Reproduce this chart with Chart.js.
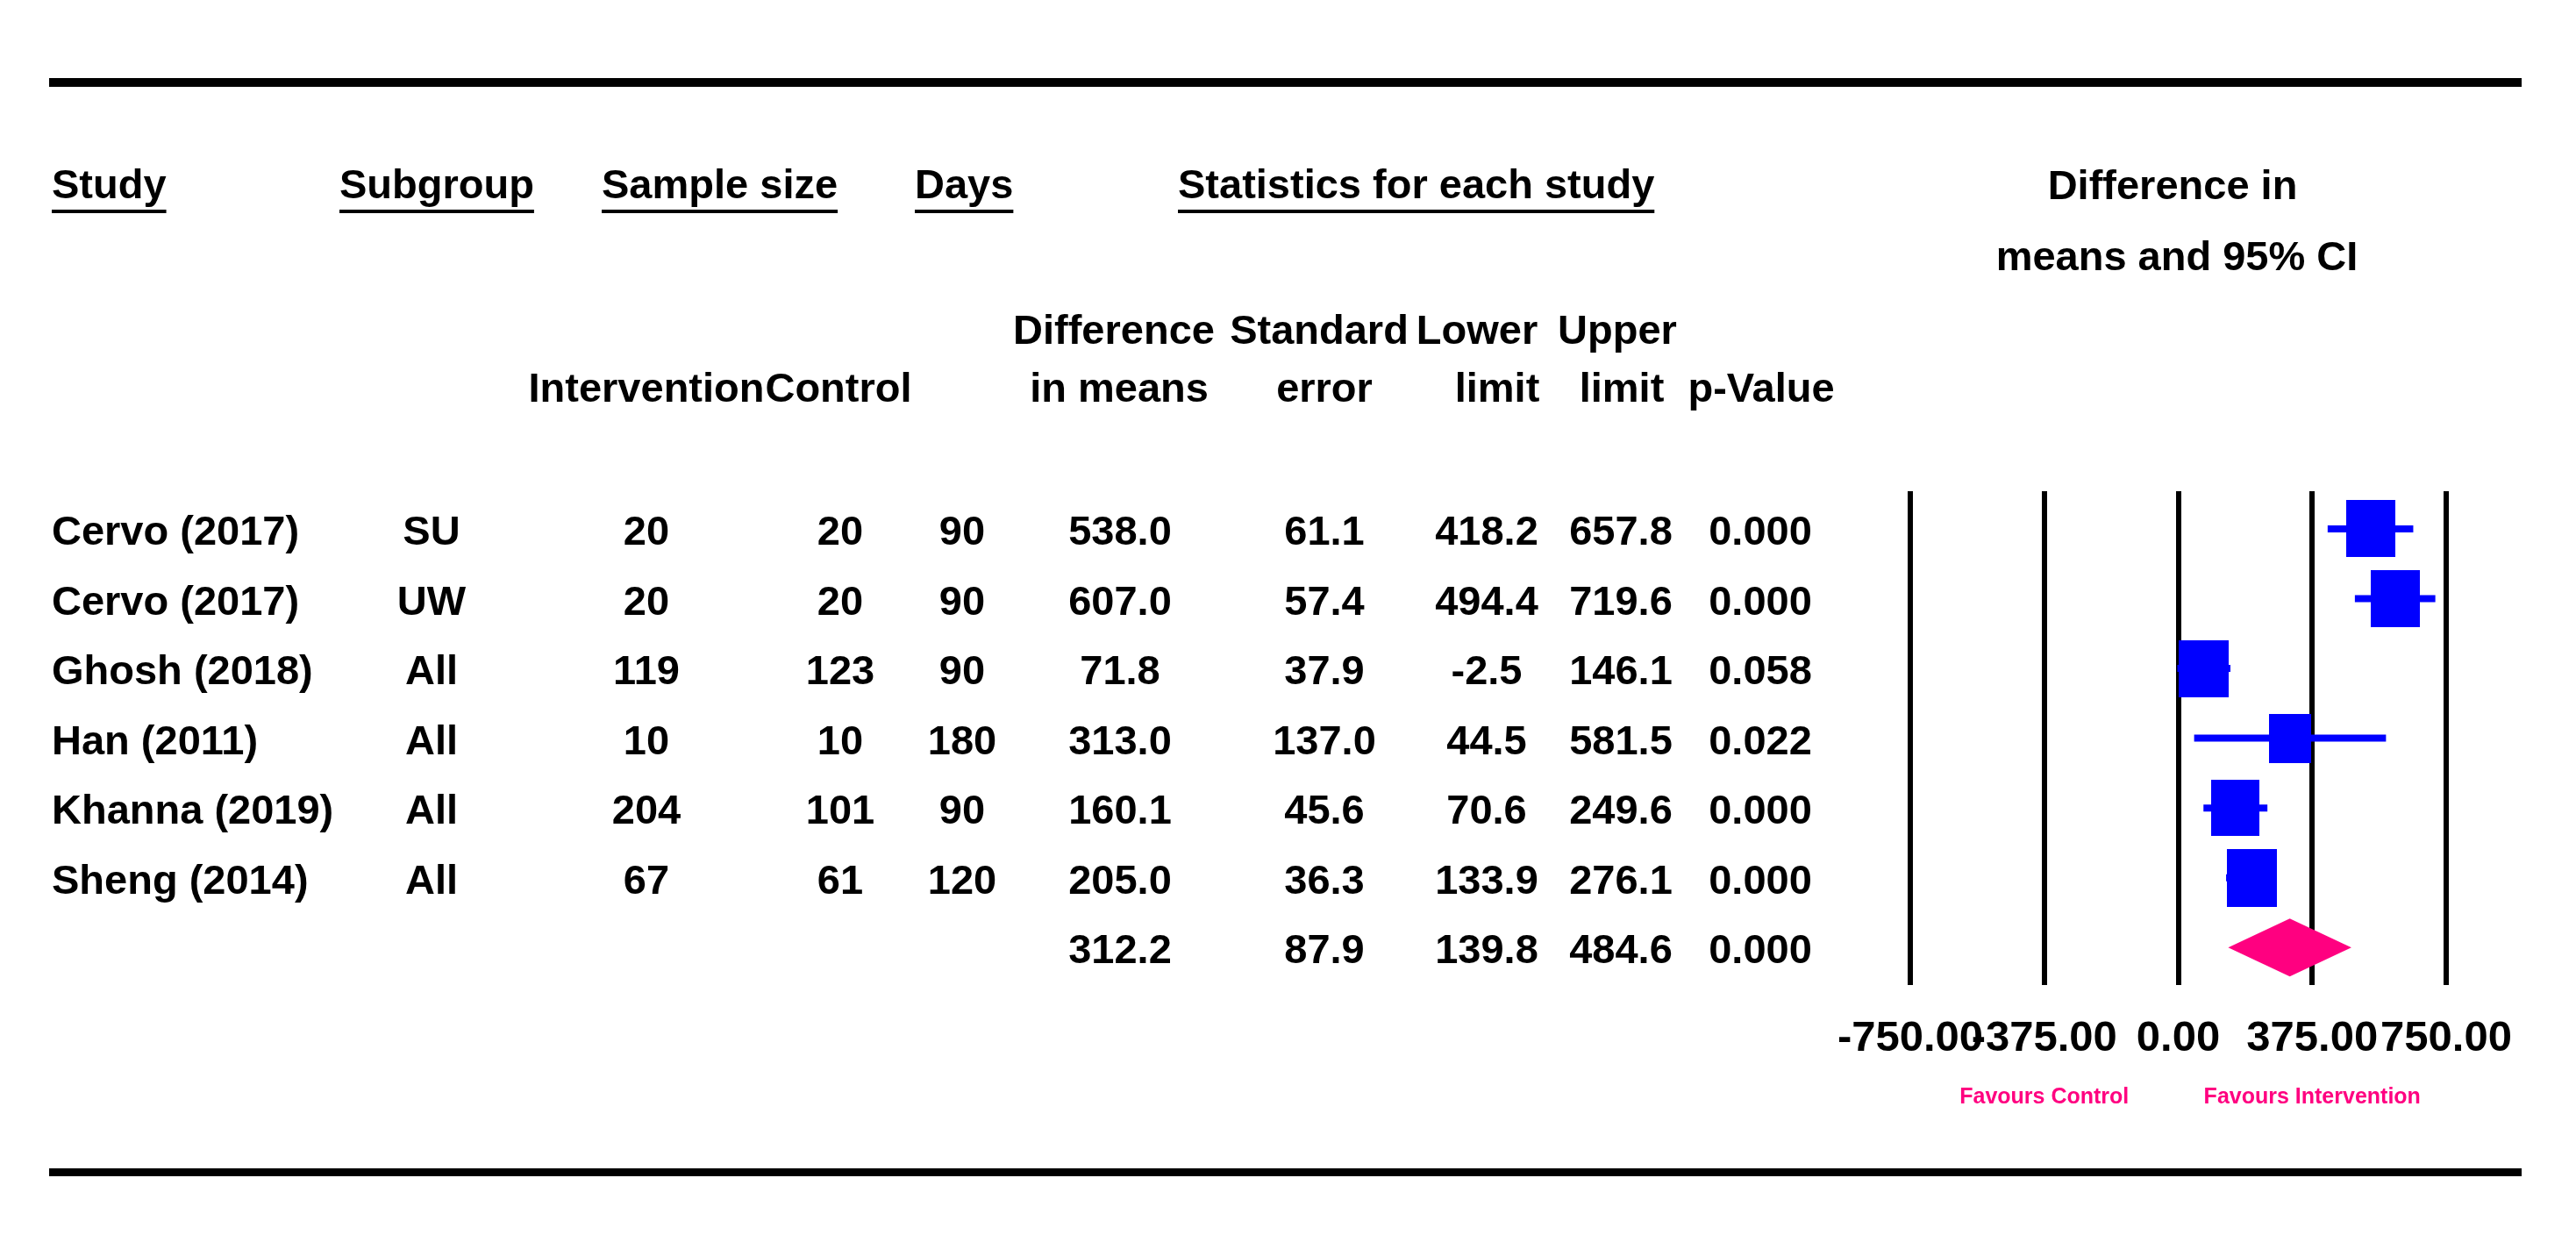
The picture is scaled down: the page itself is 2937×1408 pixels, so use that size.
<!DOCTYPE html>
<html>
<head>
<meta charset="utf-8">
<title>Difference in means and 95% CI</title>
<script src="https://cdn.jsdelivr.net/npm/chart.js@4.4.1/dist/chart.umd.min.js"></script>
<style>
  html, body { margin: 0; padding: 0; background: #ffffff; }
  canvas { display: block; }
</style>
</head>
<body>
<canvas id="forest-plot" width="2937" height="1408"></canvas>
<script>
// study level data
var studies = ['Cervo (2017)', 'Cervo (2017)', 'Ghosh (2018)', 'Han (2011)', 'Khanna (2019)', 'Sheng (2014)'];
var subgroups = ['SU', 'UW', 'All', 'All', 'All', 'All'];
var nIntervention = [20, 20, 119, 10, 204, 67];
var nControl = [20, 20, 123, 10, 101, 61];
var days = [90, 90, 90, 180, 90, 120];
var diffMeans = [538.0, 607.0, 71.8, 313.0, 160.1, 205.0];
var stdErrors = [61.1, 57.4, 37.9, 137.0, 45.6, 36.3];
var lowerLimits = [418.2, 494.4, -2.5, 44.5, 70.6, 133.9];
var upperLimits = [657.8, 719.6, 146.1, 581.5, 249.6, 276.1];
var pValues = ['0.000', '0.000', '0.058', '0.022', '0.000', '0.000'];

// pooled estimate
var pooledDiff = 312.2;
var pooledSE = 87.9;
var pooledLower = 139.8;
var pooledUpper = 484.6;
var pooledP = '0.000';

var xTicks = [-750, -375, 0, 375, 750];

// styles
var BLUE = '#0000ff', PINK = '#ff0080';
var FONT = '"Liberation Sans", Arial, Helvetica, sans-serif';
var boxSizes = [[56, 65], [56, 65], [57, 65], [48, 56], [55, 64], [57, 66]];

function boxImage(w, h) {
  var c = document.createElement('canvas');
  c.width = w;
  c.height = h;
  var g = c.getContext('2d');
  g.fillStyle = BLUE;
  g.fillRect(0, 0, w, h);
  return c;
}

function fmt1(v) { return v.toFixed(1); }

var tableCols = [
  { x: 59, align: 'left', cells: studies },
  { x: 492, align: 'center', cells: subgroups },
  { x: 737, align: 'center', cells: nIntervention },
  { x: 958, align: 'center', cells: nControl },
  { x: 1097, align: 'center', cells: days },
  { x: 1277, align: 'center', cells: diffMeans.map(fmt1), pooled: fmt1(pooledDiff) },
  { x: 1510, align: 'center', cells: stdErrors.map(fmt1), pooled: fmt1(pooledSE) },
  { x: 1695, align: 'center', cells: lowerLimits.map(fmt1), pooled: fmt1(pooledLower) },
  { x: 1848, align: 'center', cells: upperLimits.map(fmt1), pooled: fmt1(pooledUpper) },
  { x: 2007, align: 'center', cells: pValues, pooled: pooledP }
];

var headerLines = [
  { y: 226, align: 'left', underline: true, items: [['Study', 59], ['Subgroup', 387], ['Sample size', 686], ['Days', 1043], ['Statistics for each study', 1343]] },
  { y: 227, align: 'center', items: [['Difference in', 2477]] },
  { y: 308, align: 'center', items: [['means and 95% CI', 2482]] },
  { y: 392, align: 'center', items: [['Difference', 1270], ['Standard', 1504], ['Lower', 1684], ['Upper', 1844]] },
  { y: 458, align: 'center', items: [['Intervention', 737], ['Control', 956], ['in means', 1276], ['error', 1510], ['limit', 1707], ['limit', 1849], ['p-Value', 2008]] }
];

var forestDecor = {
  id: 'forestDecor',
  afterDatasetsDraw: function (chart) {
    var ctx = chart.ctx, xs = chart.scales.x, ys = chart.scales.y;
    var cy = ys.getPixelForValue(studies.length);
    ctx.save();
    ctx.fillStyle = PINK;
    ctx.beginPath();
    ctx.moveTo(xs.getPixelForValue(pooledLower), cy);
    ctx.lineTo(xs.getPixelForValue(pooledDiff), cy - 33);
    ctx.lineTo(xs.getPixelForValue(pooledUpper), cy);
    ctx.lineTo(xs.getPixelForValue(pooledDiff), cy + 33);
    ctx.closePath();
    ctx.fill();
    ctx.restore();
  },
  afterDraw: function (chart) {
    var ctx = chart.ctx, ys = chart.scales.y, xs = chart.scales.x;
    ctx.save();
    ctx.fillStyle = '#000';
    ctx.fillRect(56, 89, 2819, 10);
    ctx.fillRect(56, 1332, 2819, 9);

    ctx.font = 'bold 47px ' + FONT;
    ctx.textBaseline = 'alphabetic';
    headerLines.forEach(function (line) {
      ctx.textAlign = line.align;
      line.items.forEach(function (it) {
        ctx.fillText(it[0], it[1], line.y);
        if (line.underline) {
          var w = ctx.measureText(it[0]).width;
          ctx.fillRect(it[1], line.y + 13, w, 4);
        }
      });
    });

    tableCols.forEach(function (col) {
      ctx.textAlign = col.align;
      col.cells.forEach(function (v, i) {
        ctx.fillText(String(v), col.x, ys.getPixelForValue(i) + 18);
      });
      if (col.pooled) ctx.fillText(col.pooled, col.x, ys.getPixelForValue(studies.length) + 18);
    });

    ctx.fillStyle = PINK;
    ctx.font = 'bold 25px ' + FONT;
    ctx.textAlign = 'center';
    ctx.fillText('Favours Control', xs.getPixelForValue(xTicks[1]), 1258);
    ctx.fillText('Favours Intervention', xs.getPixelForValue(xTicks[3]), 1258);
    ctx.restore();
  }
};

var whiskerSets = studies.map(function (s, i) {
  return {
    label: s,
    showLine: true,
    data: [{ x: lowerLimits[i], y: i }, { x: upperLimits[i], y: i }],
    borderColor: BLUE,
    borderWidth: 8,
    borderCapStyle: 'butt',
    pointRadius: 0,
    order: 1
  };
});

var boxSet = {
  label: 'Difference in means',
  data: diffMeans.map(function (d, i) { return { x: d, y: i }; }),
  pointStyle: boxSizes.map(function (s) { return boxImage(s[0], s[1]); }),
  pointRadius: 10,
  backgroundColor: BLUE,
  borderColor: BLUE,
  order: 0
};

Chart.defaults.font.family = FONT;
Chart.defaults.color = '#000';

new Chart(document.getElementById('forest-plot').getContext('2d'), {
  type: 'scatter',
  data: { datasets: [boxSet].concat(whiskerSets) },
  options: {
    responsive: false,
    animation: false,
    events: [],
    layout: { padding: { top: 560, left: 2178, right: 148, bottom: 162 } },
    plugins: { legend: { display: false }, tooltip: { enabled: false } },
    scales: {
      x: {
        type: 'linear',
        min: xTicks[0],
        max: xTicks[xTicks.length - 1],
        afterBuildTicks: function (scale) {
          scale.ticks = xTicks.map(function (v) { return { value: v }; });
        },
        grid: { color: '#000', lineWidth: 6, drawTicks: false },
        border: { display: false },
        ticks: {
          autoSkip: false,
          maxRotation: 0,
          minRotation: 0,
          padding: 32,
          color: '#000',
          font: { size: 49, weight: 'bold' },
          callback: function (v) { return Number(v).toFixed(2); }
        }
      },
      y: {
        type: 'linear',
        reverse: true,
        min: -0.54,
        max: 6.54,
        display: false
      }
    }
  },
  plugins: [forestDecor]
});
</script>
</body>
</html>
